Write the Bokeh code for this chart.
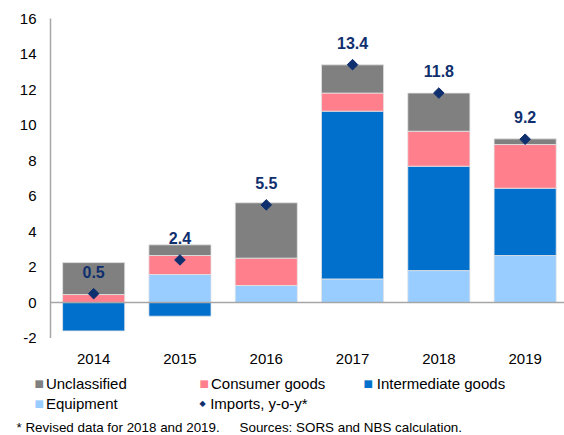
import numpy as np
from bokeh.plotting import figure
from bokeh.models import Range1d, ColumnDataSource
from bokeh.core.properties import value
from bokeh.embed import file_html
from bokeh.resources import INLINE

years = ["2014", "2015", "2016", "2017", "2018", "2019"]
equipment = [0.0, 1.58, 0.96, 1.33, 1.80, 2.65]
intermediate = [-1.60, -0.77, 0.0, 9.45, 5.88, 3.79]
consumer = [0.45, 1.07, 1.54, 1.02, 1.97, 2.46]
unclassified = [1.80, 0.60, 3.12, 1.59, 2.15, 0.32]
imports_yoy = [0.5, 2.4, 5.5, 13.4, 11.8, 9.2]
y_ticks = [-2, 0, 2, 4, 6, 8, 10, 12, 14, 16]

series = [
    ("Equipment", equipment, "#99CCFF"),
    ("Intermediate goods", intermediate, "#0070CC"),
    ("Consumer goods", consumer, "#FF7F8C"),
    ("Unclassified", unclassified, "#808080"),
]

FONT = "Liberation Sans"
NAVY = "#0F2F6E"
AXIS_GRAY = "#A6A6A6"

p = figure(width=564, height=435, output_backend="svg", toolbar_location=None,
           x_range=Range1d(-1.0794, 5.456), y_range=Range1d(-7.49, 17.014),
           min_border=0)
p.outline_line_color = None
p.xgrid.visible = False
p.ygrid.visible = False
p.xaxis.visible = False
p.yaxis.visible = False
p.background_fill_color = "white"
p.border_fill_color = "white"

x = np.arange(len(years))
pos = np.zeros(len(years))
neg = np.zeros(len(years))
for name, vals, color in series:
    v = np.array(vals, dtype=float)
    bottom = np.where(v >= 0, pos, neg + v)
    top = np.where(v >= 0, pos + v, neg)
    pos = np.where(v >= 0, pos + v, pos)
    neg = np.where(v < 0, neg + v, neg)
    src = ColumnDataSource(dict(x=x, top=top, bottom=bottom))
    p.vbar(x="x", top="top", bottom="bottom", width=0.72, source=src,
           fill_color=color, line_color="#E6E6E6", line_width=0.8)

# zero line from the y axis to the right edge
p.segment(x0=[-0.5], y0=[0], x1=[5.456], y1=[0], line_color=AXIS_GRAY, line_width=1.5)
# y axis line from -2 to 16
p.segment(x0=[-0.5], y0=[y_ticks[0]], x1=[-0.5], y1=[y_ticks[-1]],
          line_color=AXIS_GRAY, line_width=1.5)
# y tick labels
p.text(x=[-0.662] * len(y_ticks), y=y_ticks, text=[str(t) for t in y_ticks],
       text_align="right", text_baseline="middle", text_font=value(FONT),
       text_font_size="15px", text_color="#000000")

isrc = ColumnDataSource(dict(x=x, y=imports_yoy, t=[f"{v:.1f}" for v in imports_yoy]))
p.scatter(x="x", y="y", source=isrc, marker="square", angle=np.pi / 4, size=7.5,
          fill_color=NAVY, line_color=NAVY)
p.text(x="x", y="y", text="t", source=isrc, y_offset=-16, text_align="center",
       text_baseline="bottom", text_font=value(FONT), text_font_style="bold",
       text_font_size="16px", text_color=NAVY)

# category labels
p.text(x=x, y=[-3.155] * len(years), text=years, text_align="center",
       text_baseline="middle", text_font=value(FONT), text_font_size="15px",
       text_color="#000000")

# manual legend and notes
def lab(xv, yv, text, color="#000000", font=FONT, size="15px", align="left"):
    p.text(x=[xv], y=[yv], text=[text], text_color=color, text_font=value(font),
           text_font_size=size, text_baseline="middle", text_align=align)

row1 = -4.56
row2 = -5.69
legend_items = [
    ("Unclassified", "#808080", -0.685, -0.553, row1),
    ("Consumer goods", "#FF7F8C", 1.227, 1.36, row1),
    ("Intermediate goods", "#0070CC", 3.127, 3.28, row1),
    ("Equipment", "#99CCFF", -0.685, -0.553, row2),
]
for name, color, xs, xt, yr in legend_items:
    lab(xs, yr, "\u25A0", color=color, font="DejaVu Sans", size="10px")
    lab(xt, yr, name)
lab(1.262, row2, "\u25C6", color=NAVY, font="DejaVu Sans", size="8px", align="center")
lab(1.35, row2, "Imports, y-o-y*")

lab(-0.894, -7.04, "* Revised data for 2018 and 2019.", size="13.4px")
lab(1.69, -7.04, "Sources: SORS and NBS calculation.", size="13.4px")

open("out.html", "w").write(file_html(p, INLINE))
